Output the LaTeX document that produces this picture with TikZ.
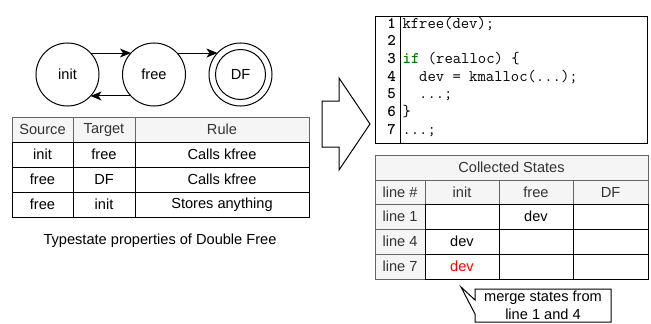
\documentclass[tikz,border=0pt]{standalone}
\usepackage{fontspec}
\setmainfont{Liberation Sans}
\usetikzlibrary{arrows.meta}
\definecolor{hdrfill}{HTML}{F5F5F5}
\definecolor{hdrline}{HTML}{666666}
\definecolor{hdrtext}{HTML}{333333}
\definecolor{kwgreen}{HTML}{008000}
\definecolor{hot}{HTML}{FF0000}

\begin{document}
\begin{tikzpicture}[x=1pt,y=-1pt,line width=1pt,
  every node/.style={font=\fontsize{14.6}{17}\selectfont,inner sep=0pt,outer sep=0pt},
  state/.style={draw,circle,minimum size=63pt},
  arr/.style={-{Stealth[length=11pt,width=9pt,inset=3pt]}},
  cell/.style={draw,minimum height=25pt,anchor=north west},
  hcell/.style={cell,fill=hdrfill,draw=hdrline,text=hdrtext},
  num/.style={anchor=base east,font=\fontsize{16.2}{17}\selectfont\ttfamily\bfseries},
  code/.style={anchor=base west,font=\fontsize{16.2}{17}\selectfont\ttfamily},
]
\useasboundingbox (0,0) rectangle (651,324);

% --- typestate automaton
\node[state] (init) at (67.5,74.5) {init};
\node[state] (free) at (154,74.5) {free};
\node[state] (DF)   at (240.5,74.5) {DF};
\draw (DF.center) circle[radius=25pt];
\draw[arr] (init.43) -- (free.137);
\draw[arr] (free.43) -- (DF.137);
\draw[arr] (free.-137) -- (init.-43);

% --- transition rules
\node[hcell,minimum width=61pt]  (hsrc)  at (12,117)  {Source};
\node[hcell,minimum width=62pt]  (htgt)  at (73,117)  {Target};
\node[hcell,minimum width=174pt] (hrule) at (135,117) {Rule};
\node[cell,minimum width=61pt]  (s1) at (12,142)  {init};
\node[cell,minimum width=62pt]  (t1) at (73,142)  {free};
\node[cell,minimum width=174pt] (r1) at (135,142) {Calls kfree};
\node[cell,minimum width=61pt]  (s2) at (12,167)  {free};
\node[cell,minimum width=62pt]  (t2) at (73,167)  {DF};
\node[cell,minimum width=174pt] (r2) at (135,167) {Calls kfree};
\node[cell,minimum width=61pt]  (s3) at (12,192)  {free};
\node[cell,minimum width=62pt]  (t3) at (73,192)  {init};
\node[cell,minimum width=174pt] (r3) at (135,192) {Stores anything};
\node (caption) at (160,241) {Typestate properties of Double Free};

% --- block arrow
\draw (322,101) -- (339,101) -- (339,78) -- (370,124) -- (339,170)
      -- (339,147) -- (322,147) -- cycle;

% --- code listing
\node[draw,minimum width=272pt,minimum height=127pt,anchor=north west] (codebox) at (375,16) {};
\draw ([xshift=25pt]codebox.north west) -- ([xshift=25pt]codebox.south west);
\node[num] (n1) at (396,28)     {1};
\node[num] (n2) at (396,45.7)   {2};
\node[num] (n3) at (396,63.3)   {3};
\node[num] (n4) at (396,81)     {4};
\node[num] (n5) at (396,98.7)   {5};
\node[num] (n6) at (396,116.3)  {6};
\node[num] (n7) at (396,134)    {7};
\node[code] (c1) at (402.5,28)    {kfree(dev);};
\node[code] (c3) at (402.5,63.3)  {{\color{kwgreen}\bfseries if} (realloc) \{};
\node[code] (c4) at (402.5,81)    {\phantom{xx}dev = kmalloc(...);};
\node[code] (c5) at (402.5,98.7)  {\phantom{xx}...;};
\node[code] (c6) at (402.5,116.3) {\}};
\node[code] (c7) at (402.5,134)   {...;};

% --- collected states
\node[hcell,minimum width=273pt] (title) at (375,155) {Collected States};
\node[hcell,minimum width=50pt,minimum height=24pt] (hline) at (375,180) {line \#};
\node[hcell,minimum width=74pt,minimum height=24pt] (hinit) at (425,180) {init};
\node[hcell,minimum width=74pt,minimum height=24pt] (hfree) at (499,180) {free};
\node[hcell,minimum width=75pt,minimum height=24pt] (hdf)   at (573,180) {DF};
\node[hcell,minimum width=50pt] (l1) at (375,204) {line 1};
\node[hcell,minimum width=50pt] (l4) at (375,229) {line 4};
\node[hcell,minimum width=50pt] (l7) at (375,254) {line 7};
\node[cell,minimum width=74pt] (a1) at (425,204) {};
\node[cell,minimum width=74pt] (b1) at (499,204) {dev};
\node[cell,minimum width=75pt] (d1) at (573,204) {};
\node[cell,minimum width=74pt] (a4) at (425,229) {dev};
\node[cell,minimum width=74pt] (b4) at (499,229) {};
\node[cell,minimum width=75pt] (d4) at (573,229) {};
\node[cell,minimum width=74pt,text=hot] (a7) at (425,254) {dev};
\node[cell,minimum width=74pt] (b7) at (499,254) {};
\node[cell,minimum width=75pt] (d7) at (573,254) {};

% --- callout
\coordinate (tip) at (461,287);
\draw (475,289) -- (611,289) -- (611,322) -- (475,322) -- (475,314)
      -- (tip) -- (475,300) -- cycle;
\node[align=center,font=\fontsize{14.6}{18.5}\selectfont] (merge) at (543,305.5)
  {merge states from\\line 1 and 4};
\end{tikzpicture}
\end{document}
